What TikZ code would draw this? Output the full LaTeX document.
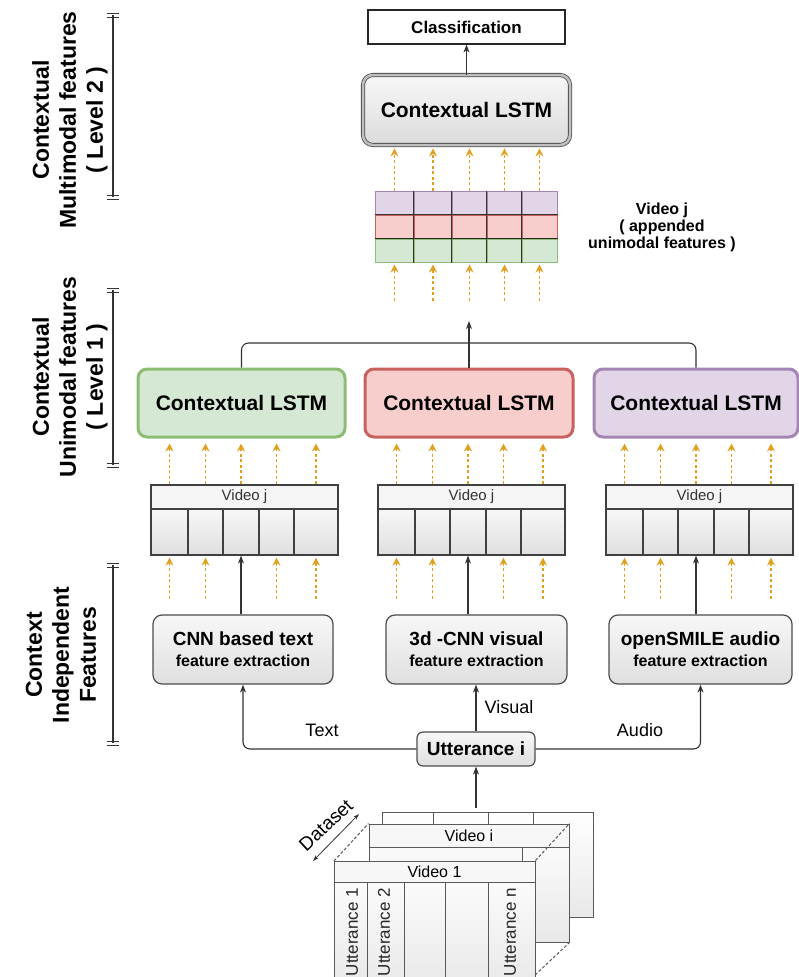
\documentclass[tikz,border=0pt]{standalone}
\usepackage{fontspec}
\setmainfont{Liberation Sans}
\usetikzlibrary{arrows.meta,calc}
\definecolor{grnf}{HTML}{D5E8D4}\definecolor{grnd}{HTML}{8DBD72}
\definecolor{redf}{HTML}{F8CECC}\definecolor{redd}{HTML}{C8625E}
\definecolor{purf}{HTML}{E1D5E7}\definecolor{purd}{HTML}{A486B4}
\definecolor{orng}{HTML}{E0A020}
\newcommand\fsz[2]{\fontsize{#1}{#2}\selectfont}
\tikzset{
  lstmbase/.style={rounded corners=9, minimum width=207, minimum height=68, font=\fsz{21}{25}\bfseries, line width=3},
  lstmg/.style={lstmbase, fill=grnf, draw=grnd},
  lstmr/.style={lstmbase, fill=redf, draw=redd},
  lstmp/.style={lstmbase, fill=purf, draw=purd},
  lstmtop/.style={rounded corners=10, minimum width=207, minimum height=70, font=\fsz{21}{25}\bfseries,
     draw=black!70, line width=0.8, double=gray!50, double distance=2.5, top color=gray!6, bottom color=gray!28},
  featbox/.style={rounded corners=9, draw=black!70, line width=1.2, top color=gray!6, bottom color=gray!25,
     align=center, minimum width=180, minimum height=69, font=\fsz{16}{20}\bfseries, inner sep=0},
  vhead/.style={draw=black!75, line width=1.2, fill=gray!8, font=\fsz{15}{18}\color{black!80}, inner sep=0},
  vcell/.style={draw=black!75, line width=1.2, top color=gray!6, bottom color=gray!25, inner sep=0},
  scell/.style={line width=1, inner sep=0},
  frame/.style={draw=black!65, line width=1, top color=white, bottom color=gray!18, inner sep=0},
  fhead/.style={draw=black!65, line width=1, fill=gray!6, inner sep=0, font=\fsz{16}{19}},
  conn/.style={draw=black!80, line width=1.1, -{Stealth[length=8,width=6]}},
  oarr/.style={draw=orng, line width=1.5, dash pattern=on 3pt off 2.5pt, -{Stealth[length=8,width=8]}},
  axlbl/.style={rotate=90, align=center, font=\fsz{23}{27}\bfseries},
  lbl/.style={font=\fsz{18}{21}},
  utt/.style={rotate=90, anchor=east, font=\fsz{17}{20}\color{black!85}, inner sep=0},
}
\newcommand\vidbox[2]{%
  \node[vhead, minimum width=187, minimum height=24] (#1h) at (#2+93.5,497) {Video j};
  \foreach \i/\p/\q in {1/0/37,2/37/72,3/72/108,4/108/143,5/143/187} {
    \node[vcell, minimum width=\q-\p, minimum height=46] (#1c\i) at (#2+\p/2+\q/2,532) {};
  }
}
\begin{document}
\begin{tikzpicture}[x=1pt,y=-1pt]
\useasboundingbox (0,0) rectangle (798,977);

% ---- axis labels
\node[axlbl] (ax1) at (70,120) {Contextual\\Multimodal features\\( Level 2 )};
\node[axlbl] (ax2) at (70,377) {Contextual\\Unimodal features\\( Level 1 )};
\node[axlbl] (ax3) at (61,655) {Context\\Independent\\Features};
\foreach \a/\b in {15/197,290/465,565/743} {
  \draw[line width=1.1, black!80] (113,\a) -- (113,\b);
  \draw[line width=1, black!80] (107,\a-2) -- (119,\a-2) (107,\a+2) -- (119,\a+2)
     (107,\b-2) -- (119,\b-2) (107,\b+2) -- (119,\b+2);
}

% ---- top
\node[draw=black!85, line width=1.2, fill=white, minimum width=197, minimum height=34, font=\fsz{17}{20}\bfseries] (cls) at (466.5,27) {Classification};
\node[lstmtop] (tl) at (466.5,110) {Contextual LSTM};
\draw[conn] (tl.north) -- (cls.south);

% ---- appended feature strip
\foreach \i/\p/\q in {1/375/414,2/414/452,3/452/487,4/487/522,5/522/557} {
  \node[scell, fill=purf, draw=purd, minimum width=\q-\p, minimum height=24] (sp\i) at (\p/2+\q/2,203) {};
  \node[scell, fill=redf, draw=redd, minimum width=\q-\p, minimum height=24] (sr\i) at (\p/2+\q/2,227) {};
  \node[scell, fill=grnf, draw=grnd, minimum width=\q-\p, minimum height=23] (sg\i) at (\p/2+\q/2,250.5) {};
}
\draw[black!80, line width=0.9] (sr1.north west) -- (sr5.north east);
\draw[black!85, line width=1] (sg1.north west) -- (sg5.north east);
\foreach \i in {2,3,4,5} { \draw[black!80, line width=1.2] (sp\i.north west) -- (sg\i.south west); }
\foreach \i in {1,...,5} {
  \draw[oarr, shorten >=3] (sp\i.north) -- (tl.south -| sp\i.north);
  \coordinate (sb\i) at ($(sg\i.south)+(0,38)$);
  \draw[oarr, shorten >=2] (sb\i) -- (sg\i.south);
}
\node[align=center, font=\fsz{16}{17}\bfseries] (vjl) at (662,227) {Video j\\( appended\\unimodal features )};

% ---- level 1 LSTMs
\node[lstmg] (lg) at (241.5,403) {Contextual LSTM};
\node[lstmr, minimum width=208] (lr) at (469,403) {Contextual LSTM};
\node[lstmp, minimum width=204] (lp) at (696,403) {Contextual LSTM};
\coordinate (merge) at (469,321);
\draw[black!80, line width=1.1, rounded corners=7] (lg.north) |- (469,343) -| (lp.north);
\draw[conn] (lr.north) -- (merge);

% ---- video j boxes
\vidbox{vg}{151}
\vidbox{vr}{378}
\vidbox{vp}{606}
\foreach \b/\l in {vg/lg,vr/lr,vp/lp} {
  \foreach \i in {1,...,5} {
    \draw[oarr, shorten >=5] (\b c\i |- \b h.north) -- (\l.south -| \b c\i);
  }
  \foreach \i in {1,2,4,5} {
    \coordinate (\b s\i) at ($(\b c\i.south)+(0,43)$);
    \draw[oarr, shorten >=2] (\b s\i) -- (\b c\i.south);
  }
}

% ---- feature extraction
\node[featbox] (ft) at (243,649.5) {{\fsz{19}{22}CNN based text}\\[1pt]feature extraction};
\node[featbox, minimum width=181] (fv) at (476.5,649.5) {{\fsz{19}{22}3d -CNN visual}\\[1pt]feature extraction};
\node[featbox, minimum width=183] (fa) at (700.5,649.5) {{\fsz{19}{22}openSMILE audio}\\[1pt]feature extraction};
\draw[conn] (ft.north -| vgc3) -- (vgc3.south);
\draw[conn] (vrc3 |- fv.north) -- (vrc3.south);
\draw[conn] (fa.north -| vpc3) -- (vpc3.south);

% ---- utterance
\node[featbox, minimum width=118, minimum height=34, rounded corners=6, font=\fsz{19}{22}\bfseries] (ut) at (476,749) {Utterance i};
\draw[conn, rounded corners=7] (ut.west) -| (ft.south);
\draw[conn] (ut.north) -- (ut.north |- fv.south);
\draw[conn, rounded corners=7] (ut.east) -| (fa.south);
\node[lbl] (ltext) at (322,730) {Text};
\node[lbl] (lvis) at (509,707) {Visual};
\node[lbl] (laud) at (640,730) {Audio};

% ---- dataset stack
\node[frame, minimum width=211, minimum height=105] (fb) at (487.5,864.5) {};
\draw[black!65, line width=1] (433,812) -- (433,824) (488,812) -- (488,824) (533,812) -- (533,824);
\node[frame, minimum width=200, minimum height=118] (fm) at (469,883) {};
\node[fhead, minimum width=200, minimum height=23] (fmh) at (469,835.5) {Video i};
\draw[black!65, line width=1] (522,847) -- (522,870);
\draw[black!65, line width=1, dash pattern=on 3pt off 2pt] (334,861) -- (fm.north west);
\node[frame, minimum width=201, minimum height=130] (ff) at (434.5,926) {};
\node[fhead, minimum width=201, minimum height=21] (ffh) at (434.5,871.5) {Video 1};
\foreach \x in {367,404,445,488} { \draw[black!65, line width=1] (\x,882) -- (\x,995); }
\draw[black!65, line width=1, dash pattern=on 3pt off 2pt] (ff.north east) -- (fm.north east);
\draw[black!65, line width=1, dash pattern=on 3pt off 2pt] (535,975) -- (fm.south east);
\node[utt] (u1) at (352,888) {Utterance 1};
\node[utt] (u2) at (384,888) {Utterance 2};
\node[utt] (un) at (510,888) {Utterance n};
\coordinate (dtop) at (476,808);
\draw[conn] (dtop) -- (ut.south);
\coordinate (da) at (313,861);
\coordinate (db) at (359,814);
\draw[black!80, line width=0.8, {Stealth[length=6,width=4]}-{Stealth[length=6,width=4]}] (da) -- (db);
\node[rotate=43, font=\fsz{19}{22}, inner sep=1pt] (dsl) at (326,825) {Dataset};
\end{tikzpicture}
\end{document}
